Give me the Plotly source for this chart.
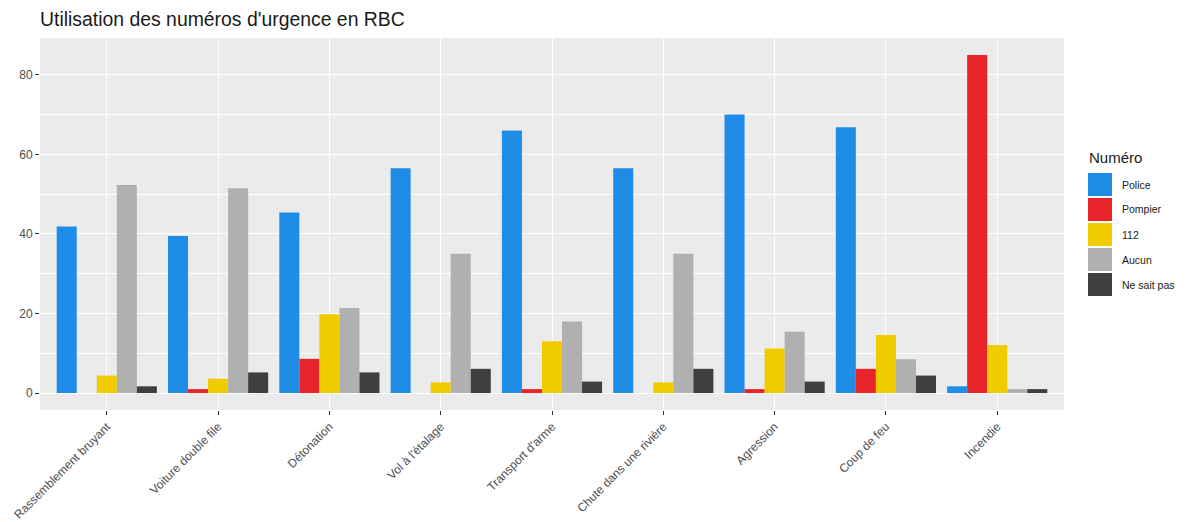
import plotly.graph_objects as go

categories = ["Rassemblement bruyant", "Voiture double file", "Détonation", "Vol à l'étalage",
              "Transport d'arme", "Chute dans une rivière", "Agression", "Coup de feu", "Incendie"]
series_names = ["Police", "Pompier", "112", "Aucun", "Ne sait pas"]
police = [41.9, 39.5, 45.4, 56.5, 66.0, 56.5, 70.0, 66.8, 1.7]
pompier = [None, 1.0, 8.6, None, 1.0, None, 1.0, 6.1, 85.0]
num112 = [4.4, 3.6, 19.8, 2.7, 13.0, 2.7, 11.2, 14.6, 12.1]
aucun = [52.3, 51.5, 21.4, 35.0, 18.0, 35.0, 15.4, 8.5, 1.0]
nsp = [1.7, 5.2, 5.2, 6.1, 2.9, 6.1, 2.9, 4.4, 1.0]
colors = ["#1F8CE8", "#E8232A", "#F0CB00", "#B0B0B0", "#3F3F3F"]

# page body has an 8px margin: figure sized to fit the 1192x522 window
OFF = 8
W, H = 1192 - OFF, 522 - OFF
ML, MT = 40 - OFF, 38 - OFF
PR, PB = 1064 - OFF, 410 - OFF
MR, MB = W - PR, H - PB
PW, PH = PR - ML, PB - MT

fig = go.Figure()
for name, vals, col in zip(series_names, [police, pompier, num112, aucun, nsp], colors):
    fig.add_trace(go.Bar(x=categories, y=vals, name=name, marker_color=col,
                         marker_line_width=0, showlegend=False))

def fx(x):
    return (x - OFF - ML) / PW
def fy(y):
    return 1 - (y - OFF - MT) / PH

# ggplot-like legend built from the series
fig.add_annotation(text="Numéro", xref="paper", yref="paper", x=fx(1087), y=fy(158),
                   xanchor="left", yanchor="middle", showarrow=False,
                   font=dict(size=15, color="#1a1a1a"))
for i, (name, col) in enumerate(zip(series_names, colors)):
    top = 173 + 25 * i
    fig.add_shape(type="rect", xref="paper", yref="paper", x0=fx(1088), x1=fx(1112),
                  y0=fy(top), y1=fy(top + 23), fillcolor=col, line_width=0)
    fig.add_annotation(text=name, xref="paper", yref="paper", x=fx(1120), y=fy(top + 11.5),
                       xanchor="left", yanchor="middle", showarrow=False,
                       font=dict(size=10.5, color="#1a1a1a"))

fig.update_layout(
    width=W, height=H,
    margin=dict(l=ML, r=MR, t=MT, b=MB, autoexpand=False),
    paper_bgcolor="white", plot_bgcolor="#EBEBEB",
    barmode="group", bargap=0.1, bargroupgap=0,
    font=dict(family="Liberation Sans, Arial, sans-serif"),
    title=dict(text="Utilisation des numéros d'urgence en RBC", x=(40 - OFF) / W, xref="container",
               xanchor="left", y=1 - (19 - OFF) / H, yref="container", yanchor="middle",
               pad=dict(l=0, r=0, t=0, b=0),
               font=dict(size=19.4, color="#1a1a1a")),
    showlegend=False,
)
fig.update_xaxes(range=[-0.6, 8.6], showgrid=True, gridcolor="white", gridwidth=1.1,
                 tickangle=-45, ticks="outside", ticklen=4, tickcolor="#333333",
                 tickfont=dict(size=12, color="#4D4D4D"), showline=False, zeroline=False,
                 automargin=False)
fig.update_yaxes(range=[-4.25, 89.25], tickvals=[0, 20, 40, 60, 80], showgrid=True,
                 gridcolor="white", gridwidth=1.1, ticks="outside", ticklen=4,
                 tickcolor="#333333", tickfont=dict(size=12, color="#4D4D4D"),
                 zeroline=False, showline=False, automargin=False,
                 minor=dict(tickvals=[10, 30, 50, 70], showgrid=True, gridcolor="white",
                            gridwidth=0.5, ticks=""))

fig.write_html("out.html")
